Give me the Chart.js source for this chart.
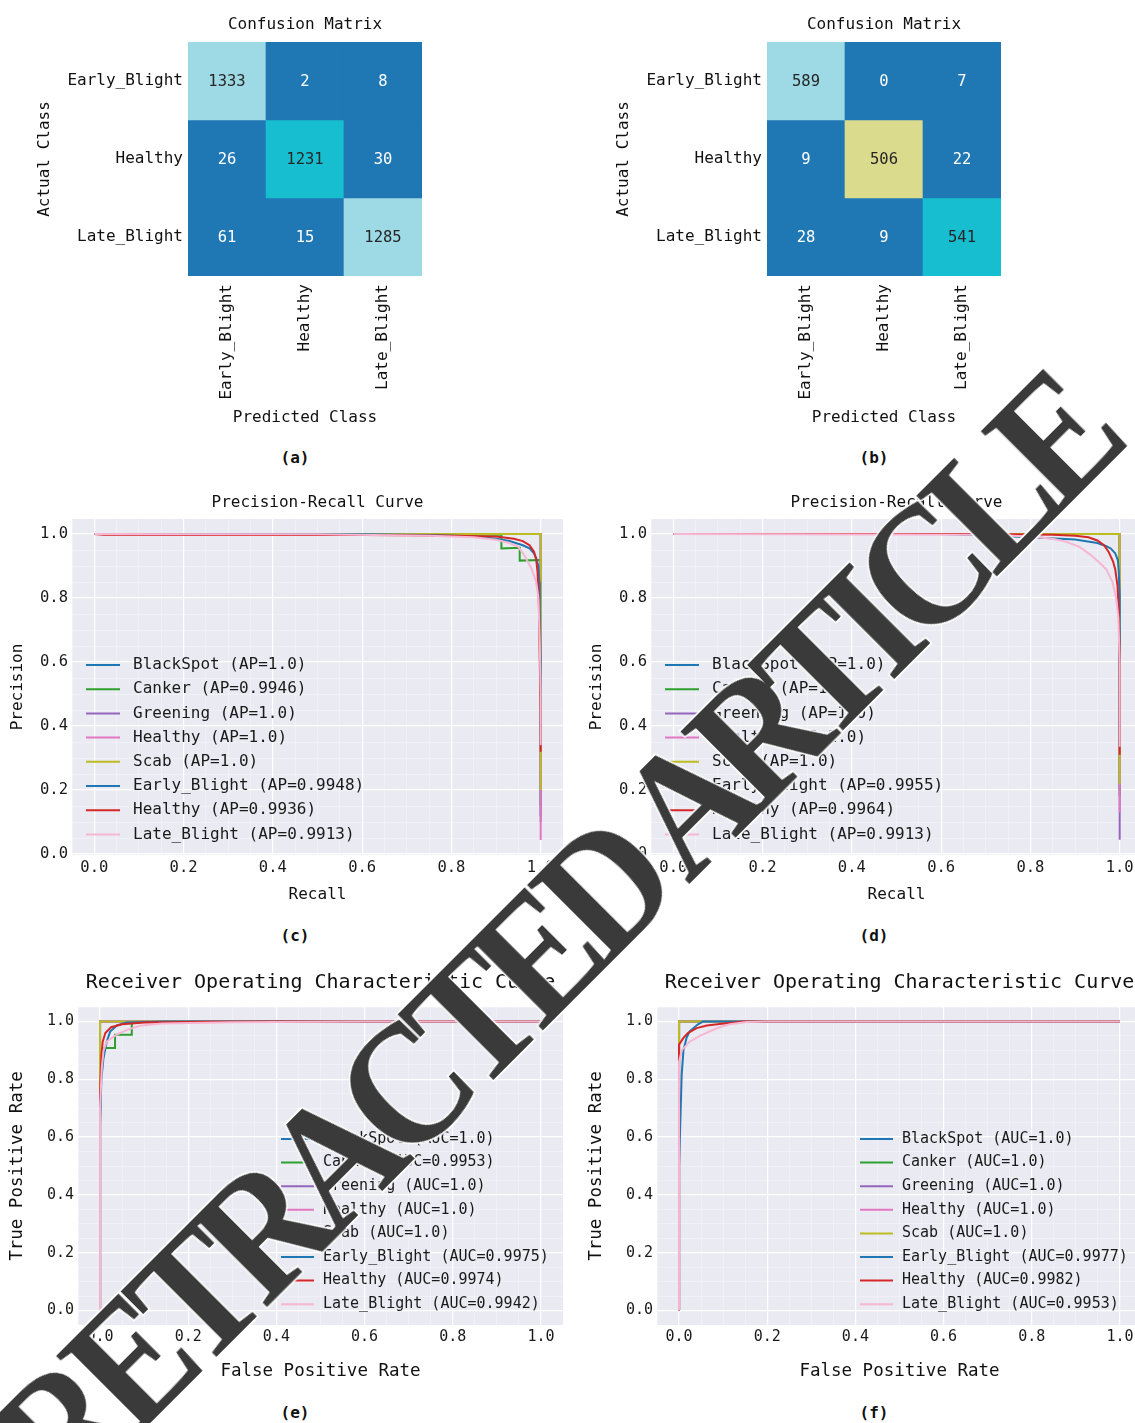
<!DOCTYPE html>
<html>
<head>
<meta charset="utf-8">
<script src="https://cdn.jsdelivr.net/npm/chart.js"></script>
<style>
  html, body { margin: 0; padding: 0; background: #fff; width: 1135px; height: 1423px; overflow: hidden; }
  body { position: relative; }
  canvas { position: absolute; }
  .cap { position: absolute; font: bold 16px "DejaVu Sans Mono", monospace; color: #111; transform: translate(-50%, -50%); }
  #stamp {
    position: absolute; left: 553px; top: 938px;
    transform: translate(-50%, -50%) rotate(-45deg) scaleY(1.1);
    font: bold 158px "Liberation Serif", serif; color: #3a3a3a; line-height: 1; letter-spacing: -14px;
    white-space: nowrap; -webkit-text-stroke: 3px #fff; paint-order: stroke fill;
  }
</style>
</head>
<body>
<canvas id="cmA" width="440" height="430" style="left:0;top:0"></canvas>
<canvas id="cmB" width="440" height="430" style="left:579px;top:0"></canvas>
<canvas id="prC" width="580" height="420" style="left:0;top:490px"></canvas>
<canvas id="prD" width="580" height="420" style="left:579px;top:490px"></canvas>
<canvas id="rocE" width="580" height="430" style="left:0;top:965px"></canvas>
<canvas id="rocF" width="580" height="430" style="left:579px;top:965px"></canvas>
<div class="cap" style="left:295px;top:457px">(a)</div>
<div class="cap" style="left:874px;top:457px">(b)</div>
<div class="cap" style="left:295px;top:935px">(c)</div>
<div class="cap" style="left:874px;top:935px">(d)</div>
<div class="cap" style="left:295px;top:1412px">(e)</div>
<div class="cap" style="left:874px;top:1412px">(f)</div>
<div id="stamp">RETRACTED ARTICLE</div>
<script>
// confusion matrices (rows = actual, cols = predicted)
const classes = ['Early_Blight', 'Healthy', 'Late_Blight'];
const cmA = [[1333, 2, 8], [26, 1231, 30], [61, 15, 1285]];
const cmB = [[589, 0, 7], [9, 506, 22], [28, 9, 541]];

// curve legends
const curveNames = ['BlackSpot', 'Canker', 'Greening', 'Healthy', 'Scab', 'Early_Blight', 'Healthy', 'Late_Blight'];
const apC = ['1.0', '0.9946', '1.0', '1.0', '1.0', '0.9948', '0.9936', '0.9913'];
const apD = ['1.0', '1.0', '1.0', '1.0', '1.0', '0.9955', '0.9964', '0.9913'];
const aucE = ['1.0', '0.9953', '1.0', '1.0', '1.0', '0.9975', '0.9974', '0.9942'];
const aucF = ['1.0', '1.0', '1.0', '1.0', '1.0', '0.9977', '0.9982', '0.9953'];
const gridTicks = [0, 0.2, 0.4, 0.6, 0.8, 1.0];

// (c) precision-recall, one array per class
const recallC = [
  [0, 1, 1],
  [0, 0.6, 0.912, 0.912, 0.953, 0.953, 0.998, 1, 1],
  [0, 1, 1],
  [0, 1, 1],
  [0, 1, 1],
  [0, 0.3, 0.6, 0.75, 0.85, 0.9, 0.93, 0.96, 0.975, 0.985, 0.99, 0.995, 0.997, 0.998, 1, 1],
  [0, 0.02, 0.6, 0.7, 0.8, 0.9, 0.94, 0.96, 0.975, 0.985, 0.99, 0.993, 0.996, 0.998, 1, 1],
  [0, 0.5, 0.75, 0.85, 0.9, 0.93, 0.95, 0.965, 0.98, 0.99, 0.995, 0.998, 1, 1]
];
const precisionC = [
  [1, 1, 0.12],
  [1, 1, 0.998, 0.955, 0.957, 0.917, 0.919, 0.919, 0.15],
  [1, 1, 0.1],
  [1, 1, 0.044],
  [1, 1, 0.2],
  [1, 1, 0.999, 0.997, 0.993, 0.985, 0.978, 0.965, 0.955, 0.94, 0.925, 0.9, 0.85, 0.75, 0.6, 0.336],
  [1, 0.998, 0.997, 0.996, 0.995, 0.992, 0.985, 0.978, 0.965, 0.945, 0.92, 0.88, 0.78, 0.6, 0.45, 0.32],
  [1, 0.999, 0.995, 0.99, 0.982, 0.972, 0.96, 0.93, 0.89, 0.85, 0.8, 0.66, 0.5, 0.34]
];

// (d) precision-recall
const recallD = [
  [0, 1, 1], [0, 1, 1], [0, 1, 1], [0, 1, 1], [0, 1, 1],
  [0, 0.6, 0.7, 0.8, 0.9, 0.95, 0.97, 0.98, 0.99, 0.996, 0.998, 1, 1],
  [0, 0.7, 0.85, 0.9, 0.93, 0.95, 0.965, 0.975, 0.985, 0.99, 0.995, 0.998, 1, 1],
  [0, 0.7, 0.8, 0.85, 0.88, 0.91, 0.935, 0.955, 0.97, 0.984, 0.992, 0.997, 1, 1]
];
const precisionD = [
  [1, 1, 0.2], [1, 1, 0.18], [1, 1, 0.045], [1, 1, 0.13], [1, 1, 0.22],
  [1, 1, 0.996, 0.99, 0.983, 0.972, 0.962, 0.955, 0.94, 0.918, 0.88, 0.81, 0.336],
  [1, 1, 0.998, 0.995, 0.99, 0.98, 0.965, 0.945, 0.915, 0.89, 0.84, 0.76, 0.6, 0.31],
  [1, 0.998, 0.992, 0.985, 0.976, 0.96, 0.935, 0.91, 0.89, 0.85, 0.8, 0.74, 0.6, 0.335]
];

// (e) ROC
const fprE = [
  [0, 0, 1],
  [0, 0, 0.01, 0.034, 0.034, 0.072, 0.072, 1],
  [0, 0, 1], [0, 0, 1], [0, 0, 1],
  [0, 0, 0.003, 0.0075, 0.015, 0.023, 0.038, 0.06, 0.15, 1],
  [0, 0, 0.003, 0.006, 0.012, 0.025, 0.05, 0.1, 0.25, 0.4, 1],
  [0, 0, 0.004, 0.008, 0.015, 0.038, 0.06, 0.09, 0.14, 0.3, 0.6, 1]
];
const tprE = [
  [0, 1, 1],
  [0, 0.85, 0.908, 0.908, 0.954, 0.954, 1, 1],
  [0, 1, 1], [0, 1, 1], [0, 1, 1],
  [0, 0.64, 0.8, 0.87, 0.93, 0.965, 0.986, 0.996, 1, 1],
  [0, 0.75, 0.88, 0.93, 0.96, 0.98, 0.99, 0.996, 0.999, 1, 1],
  [0, 0.7, 0.84, 0.9, 0.93, 0.955, 0.97, 0.985, 0.993, 0.997, 1, 1]
];

// (f) ROC
const fprF = [
  [0, 0, 1], [0, 0, 1], [0, 0, 1], [0, 0, 1], [0, 0, 1],
  [0, 0, 0.006, 0.01, 0.017, 0.024, 0.043, 0.055, 1],
  [0, 0, 0, 0.01, 0.02, 0.04, 0.063, 0.097, 0.15, 1],
  [0, 0, 0.006, 0.024, 0.047, 0.07, 0.092, 0.115, 0.153, 0.2, 1]
];
const tprF = [
  [0, 1, 1], [0, 1, 1], [0, 1, 1], [0, 1, 1], [0, 1, 1],
  [0, 0.5, 0.816, 0.9, 0.943, 0.966, 0.99, 1, 1],
  [0, 0.68, 0.92, 0.943, 0.96, 0.977, 0.986, 0.992, 1, 1],
  [0, 0.86, 0.9, 0.93, 0.95, 0.966, 0.98, 0.99, 0.998, 1, 1]
];

Chart.defaults.font.family = '"DejaVu Sans Mono", monospace';
Chart.defaults.color = '#1a1a1a';
Chart.defaults.animation = false;

const curveColors = ['#1f77b4', '#2ca02c', '#9467bd', '#e377c2', '#bcbd22', '#1f77b4', '#d62728', '#f7b6d2'];
const tab20 = ['#1f77b4', '#aec7e8', '#ff7f0e', '#ffbb78', '#2ca02c', '#98df8a', '#d62728', '#ff9896', '#9467bd', '#c5b0d5',
  '#8c564b', '#c49c94', '#e377c2', '#f7b6d2', '#7f7f7f', '#c7c7c7', '#bcbd22', '#dbdb8d', '#17becf', '#9edae5'];

function cmapColor(v, lo, hi) {
  return tab20[Math.min(19, Math.floor((v - lo) / (hi - lo) * 20))];
}
function isLight(hex) {
  const r = parseInt(hex.slice(1, 3), 16), g = parseInt(hex.slice(3, 5), 16), b = parseInt(hex.slice(5, 7), 16);
  return 0.299 * r + 0.587 * g + 0.114 * b > 120;
}
const isMajor = v => gridTicks.some(t => Math.abs(t - v) < 1e-6);

// numbers in the heatmap cells
const cellText = {
  id: 'cellText',
  afterDatasetsDraw(chart) {
    const ctx = chart.ctx;
    ctx.save();
    ctx.font = '15.5px "DejaVu Sans Mono"';
    ctx.textAlign = 'center';
    ctx.textBaseline = 'middle';
    chart.data.datasets.forEach((ds, i) => {
      chart.getDatasetMeta(i).data.forEach((bar, j) => {
        const c = bar.getCenterPoint();
        ctx.fillStyle = isLight(ds.backgroundColor[j]) ? '#262626' : '#ffffff';
        ctx.fillText(String(ds.counts[j]), c.x, c.y + 1);
      });
    });
    ctx.restore();
  }
};

// seaborn-ish grey plot face
const plotBg = {
  id: 'plotBg',
  beforeDraw(chart) {
    const a = chart.chartArea, ctx = chart.ctx;
    ctx.save();
    ctx.fillStyle = '#eaeaf2';
    ctx.fillRect(a.left, a.top, a.right - a.left, a.bottom - a.top);
    ctx.restore();
  }
};

// legend drawn inside the plot, no frame
const inLegend = {
  id: 'inLegend',
  afterDatasetsDraw(chart, args, o) {
    const ctx = chart.ctx;
    ctx.save();
    ctx.font = o.size + 'px "DejaVu Sans Mono"';
    ctx.textBaseline = 'middle';
    chart.data.datasets.forEach((ds, i) => {
      const y = o.y + i * o.step;
      ctx.strokeStyle = ds.borderColor;
      ctx.lineWidth = 2;
      ctx.beginPath();
      ctx.moveTo(o.x, y);
      ctx.lineTo(o.x + o.line, y);
      ctx.stroke();
      ctx.fillStyle = '#1a1a1a';
      ctx.fillText(ds.label, o.x + o.line + o.gap, y);
    });
    ctx.restore();
  }
};

function confusion(id, cm) {
  const flat = cm.flat();
  const lo = Math.min(...flat), hi = Math.max(...flat);
  new Chart(document.getElementById(id), {
    type: 'bar',
    data: {
      labels: classes,
      datasets: cm.map((row, i) => ({
        label: classes[i],
        data: row.map(() => 1),
        counts: row,
        backgroundColor: row.map(v => cmapColor(v, lo, hi)),
        borderWidth: 0,
        barPercentage: 1,
        categoryPercentage: 1,
        stack: 'cm'
      }))
    },
    options: {
      responsive: false,
      devicePixelRatio: 1,
      layout: { padding: { right: 18 } },
      plugins: {
        legend: { display: false },
        tooltip: { enabled: false },
        title: { display: true, text: 'Confusion Matrix', fullSize: false, color: '#111',
          font: { size: 16, weight: 'normal' }, padding: { top: 15.4, bottom: 7.4 } }
      },
      scales: {
        x: {
          stacked: true,
          grid: { display: false, drawTicks: false },
          border: { display: false },
          ticks: { minRotation: 90, maxRotation: 90, padding: 8, color: '#111', font: { size: 16 } },
          title: { display: true, text: 'Predicted Class', color: '#111', font: { size: 16 }, padding: { top: 0, bottom: 2.4 } },
          afterFit: s => { s.height = 154; }
        },
        y: {
          stacked: true,
          reverse: true,
          min: 0,
          max: 3,
          grid: { display: false, drawTicks: false },
          border: { display: false },
          afterBuildTicks: s => { s.ticks = classes.map((c, i) => ({ value: i + 0.5 })); },
          ticks: { padding: 5, color: '#111', font: { size: 16 }, callback: (v, i) => classes[i] },
          title: { display: true, text: 'Actual Class', color: '#111', font: { size: 16 }, padding: { top: 35.4, bottom: 0 } },
          afterFit: s => { s.width = 188; }
        }
      }
    },
    plugins: [cellText]
  });
}

function minorGrid(s) {
  const out = [];
  for (let k = Math.ceil(s.min / 0.05 - 1e-9); k * 0.05 <= s.max + 1e-9; k++) {
    out.push({ value: +(k * 0.05).toFixed(2) });
  }
  s.ticks = out;
}
const gridStyle = {
  drawTicks: false,
  color: c => (c.tick && isMajor(c.tick.value)) ? '#ffffff' : 'rgba(255,255,255,0.5)',
  lineWidth: c => (c.tick && isMajor(c.tick.value)) ? 1.2 : 0.6
};

function curves(id, xs, ys, scores, tag, c) {
  new Chart(document.getElementById(id), {
    type: 'line',
    data: {
      datasets: xs.map((xv, i) => ({
        label: curveNames[i] + ' (' + tag + '=' + scores[i] + ')',
        data: xv.map((x, k) => ({ x: x, y: ys[i][k] })),
        borderColor: curveColors[i],
        borderWidth: 2,
        pointRadius: 0,
        tension: 0,
        fill: false,
        order: -i   // later classes painted on top, like matplotlib
      }))
    },
    options: {
      responsive: false,
      devicePixelRatio: 1,
      layout: { padding: { right: 17 } },
      plugins: {
        legend: { display: false },
        tooltip: { enabled: false },
        title: { display: true, text: c.title, fullSize: false, color: '#111',
          font: { size: c.titleSize, weight: 'normal' }, padding: c.titlePad },
        inLegend: c.legend
      },
      scales: {
        x: {
          type: 'linear',
          min: -0.05,
          max: 1.05,
          afterBuildTicks: minorGrid,
          grid: gridStyle,
          border: { display: false },
          ticks: { autoSkip: false, maxRotation: 0, padding: c.xTickPad, font: { size: c.tickSize },
            callback: v => isMajor(v) ? v.toFixed(1) : '' },
          title: { display: true, text: c.xTitle, color: '#111', font: { size: c.axisSize }, padding: { top: 0, bottom: c.xTitlePad } },
          afterFit: s => { s.height = c.xHeight; }
        },
        y: {
          type: 'linear',
          min: c.yMin,
          max: c.yMax,
          afterBuildTicks: minorGrid,
          grid: gridStyle,
          border: { display: false },
          ticks: { autoSkip: false, padding: 4, font: { size: c.tickSize },
            callback: v => isMajor(v) ? v.toFixed(1) : '' },
          title: { display: true, text: c.yTitle, color: '#111', font: { size: c.axisSize }, padding: { top: c.yTitlePad, bottom: 0 } },
          afterFit: s => { s.width = c.yWidth; }
        }
      }
    },
    plugins: [plotBg, inLegend]
  });
}

confusion('cmA', cmA);
confusion('cmB', cmB);

const prLayout = {
  title: 'Precision-Recall Curve', titleSize: 16, titlePad: { top: 3.4, bottom: 6.4 },
  xTitle: 'Recall', yTitle: 'Precision', axisSize: 16, tickSize: 15.5,
  xTickPad: 3.7, xTitlePad: 5.4, xHeight: 55, yWidth: 72, yTitlePad: 8.4,
  yMin: -0.003, yMax: 1.047,
  legend: { x: 86, y: 175, step: 24.2, line: 34, gap: 13, size: 16 }
};
const rocLayout = {
  title: 'Receiver Operating Characteristic Curve', titleSize: 20, titlePad: { top: 6, bottom: 12 },
  xTitle: 'False Positive Rate', yTitle: 'True Positive Rate', axisSize: 17.5, tickSize: 15,
  xTickPad: 3, xTitlePad: 13.5, xHeight: 70, yWidth: 78, yTitlePad: 6.5,
  yMin: -0.05, yMax: 1.05,
  legend: { x: 281, y: 174, step: 23.6, line: 33, gap: 9, size: 15 }
};

curves('prC', recallC, precisionC, apC, 'AP', prLayout);
curves('prD', recallD, precisionD, apD, 'AP', prLayout);
curves('rocE', fprE, tprE, aucE, 'AUC', rocLayout);
curves('rocF', fprF, tprF, aucF, 'AUC', rocLayout);
</script>
</body>
</html>
